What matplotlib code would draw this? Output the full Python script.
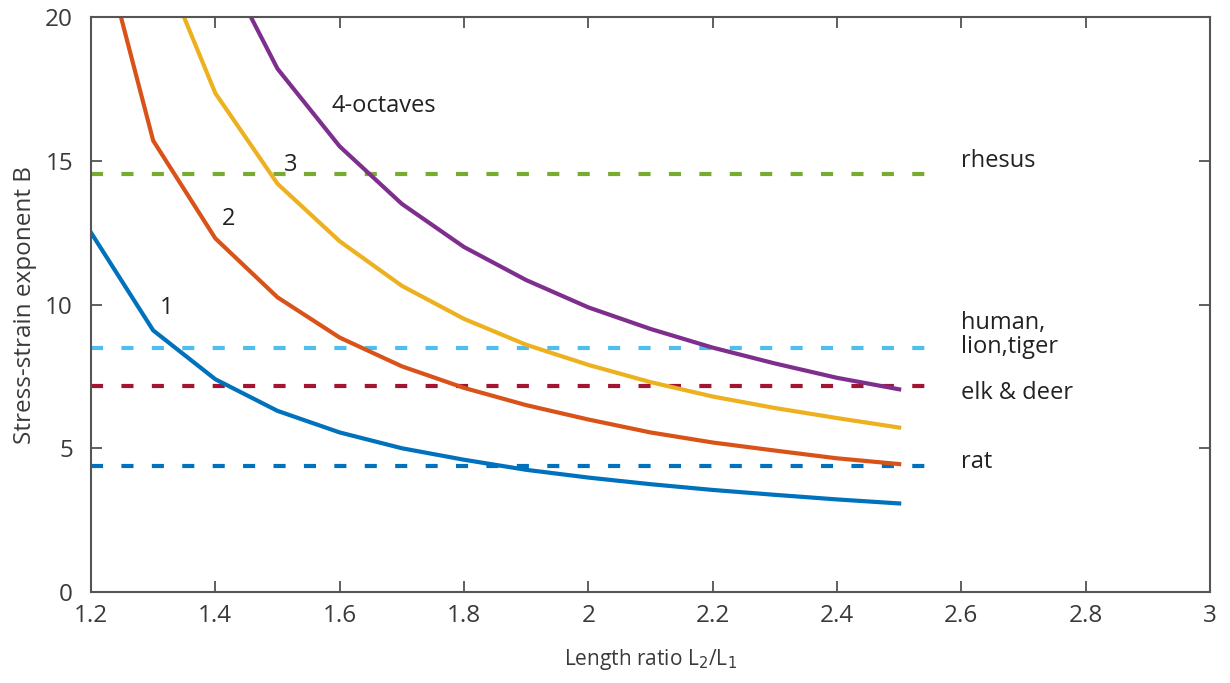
import matplotlib.pyplot as plt

plt.rcParams['font.family'] = ['Open Sans', 'DejaVu Sans']

# Length ratio samples
ratio = [1.2, 1.3, 1.4, 1.5, 1.6, 1.7, 1.8, 1.9, 2.0, 2.1, 2.2, 2.3, 2.4, 2.5]

# Stress-strain exponent B for 1, 2, 3, 4 octaves
b_oct1 = [12.5, 9.1, 7.4, 6.3, 5.55, 5.0, 4.6, 4.25, 3.98, 3.75, 3.55, 3.38, 3.22, 3.08]
b_oct2 = [24.0, 15.7, 12.3, 10.25, 8.85, 7.85, 7.1, 6.5, 6.0, 5.55, 5.2, 4.92, 4.65, 4.45]
b_oct3 = [31.0, 22.6, 17.35, 14.2, 12.2, 10.65, 9.5, 8.6, 7.9, 7.3, 6.8, 6.4, 6.05, 5.72]
b_oct4 = [29.0, 25.5, 22.4, 18.2, 15.5, 13.5, 12.0, 10.85, 9.9, 9.15, 8.5, 7.95, 7.45, 7.05]

# Measured exponents for species
species = ['rhesus', 'human,\nlion,tiger', 'elk & deer', 'rat']
species_b = [14.55, 8.5, 7.15, 4.4]
species_label_y = [15.0, 8.95, 6.92, 4.52]
species_colors = ['#77AC30', '#4DBEEE', '#A2142F', '#0072BD']
ref_span = [1.2, 2.555]

curve_colors = ['#0072BD', '#D95319', '#EDB120', '#7E2F8E']
curve_labels = ['1', '2', '3', '4-octaves']
curve_label_pos = [(1.31, 9.88), (1.41, 12.97), (1.51, 14.85), (1.587, 16.9)]

fig = plt.figure(figsize=(12.3, 6.83), dpi=100)
ax = fig.add_axes([91 / 1230, 1 - 592 / 683, 1119 / 1230, 575 / 683])

for b, c in zip(species_b, species_colors):
    ax.plot(ref_span, [b, b], color=c, lw=3, linestyle=(0, (2.9, 4.4)),
            solid_capstyle='butt', dash_capstyle='butt')

for ys, c in zip([b_oct1, b_oct2, b_oct3, b_oct4], curve_colors):
    ax.plot(ratio, ys, color=c, lw=3, solid_joinstyle='round')

for (x, y), t in zip(curve_label_pos, curve_labels):
    ax.text(x, y, t, fontsize=17, color='#222222', ha='left', va='center')

for t, y in zip(species, species_label_y):
    ax.text(2.6, y, t, fontsize=17, color='#222222', ha='left', va='center',
            linespacing=1.0)

ax.set_xlim(1.2, 3)
ax.set_ylim(0, 20)
ax.set_xticks([1.2, 1.4, 1.6, 1.8, 2, 2.2, 2.4, 2.6, 2.8, 3])
ax.set_xticklabels(['1.2', '1.4', '1.6', '1.8', '2', '2.2', '2.4', '2.6', '2.8', '3'])
ax.set_yticks([0, 5, 10, 15, 20])
ax.tick_params(direction='in', length=8, width=1.2, top=True, right=True,
               labelsize=17.5, colors='#444444', labelcolor='#3a3a3a')
ax.tick_params(axis='y', pad=13)
ax.tick_params(axis='x', pad=9)
for s in ax.spines.values():
    s.set_color('#555555')
    s.set_linewidth(1.5)

ax.set_xlabel('Length ratio L$_2$/L$_1$', fontsize=15, color='#3a3a3a', labelpad=13)
ax.set_ylabel('Stress-strain exponent B', fontsize=17.5, color='#3a3a3a', labelpad=6)

fig.savefig('out.png', dpi=100, facecolor='white')
